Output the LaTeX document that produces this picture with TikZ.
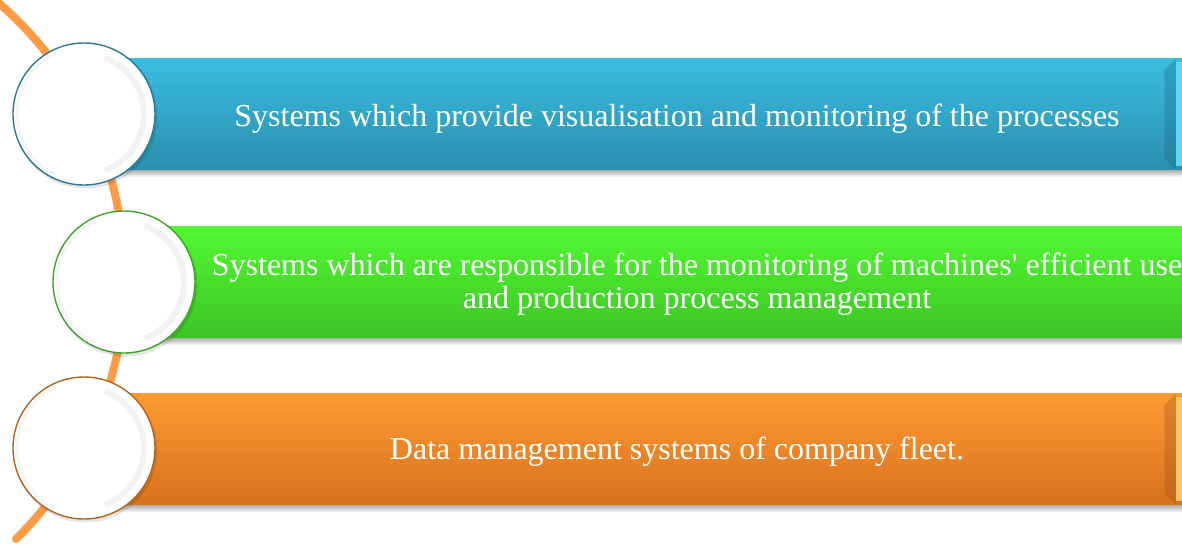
\documentclass[tikz,border=0pt]{standalone}
\usepackage{fontspec}
\setmainfont{Liberation Serif}[Ligatures=TeXOff]
\definecolor{bluetop}{HTML}{3ABDE0}
\definecolor{bluebot}{HTML}{2A8FAF}
\definecolor{bluering}{HTML}{2B7A92}
\definecolor{bluelight}{HTML}{5AD8F6}
\definecolor{greentop}{HTML}{52F832}
\definecolor{greenbot}{HTML}{3CC425}
\definecolor{greenring}{HTML}{3EA52B}
\definecolor{greenlight}{HTML}{80FF66}
\definecolor{orangetop}{HTML}{FF9B33}
\definecolor{orangebot}{HTML}{D6711E}
\definecolor{orangering}{HTML}{B5651F}
\definecolor{orangelight}{HTML}{FFC464}
\definecolor{arccol}{HTML}{FF9A45}
\tikzset{
  barbox/.style={rectangle, anchor=north west, minimum width=1080pt, minimum height=112pt, inner sep=0pt, draw=none},
  bartext/.style={text=white, font=\fontsize{32}{33}\selectfont, align=center, inner sep=0pt},
  disc/.style={circle, minimum size=142pt, inner sep=0pt, fill=white, line width=1.4pt},
  shadowband/.style={top color=black!30, bottom color=white, draw=none},
}
\newcommand{\barextras}[3]{% #1 bar node, #2 dark col, #3 light col
  \fill[shadowband] (#1.south west) rectangle ([yshift=-7pt]#1.south east);
  \fill[#2, opacity=0.3] ([xshift=-26pt,yshift=-12pt]#1.north east) -- ([xshift=-14pt]#1.north east) -- ([xshift=-14pt]#1.south east) -- ([xshift=-26pt,yshift=12pt]#1.south east) -- cycle;
  \fill[#3] ([xshift=-14pt,yshift=-4pt]#1.north east) rectangle ([xshift=-8pt,yshift=4pt]#1.south east);
}
\begin{document}
\begin{tikzpicture}[x=1pt,y=-1pt]
\useasboundingbox (0,0) rectangle (1182,544);
\clip (0,0) rectangle (1182,544);
\fill[white] (0,0) rectangle (1182,544);
% orange arc behind
\coordinate (arcc) at (-239.6,279);
\draw[arccol, line width=8pt, line cap=round] ([shift={(45.5:364.6)}]arcc) arc[start angle=45.5, end angle=-52, radius=364.6];
% bars
\node[barbox, top color=bluetop, bottom color=bluebot] (bar1) at (110,58) {};
\node[barbox, top color=greentop, bottom color=greenbot] (bar2) at (150,226) {};
\node[barbox, top color=orangetop, bottom color=orangebot] (bar3) at (110,393) {};
\barextras{bar1}{bluebot!70!black}{bluelight}
\barextras{bar2}{greenbot!70!black}{greenlight}
\barextras{bar3}{orangebot!70!black}{orangelight}
% texts
\node[bartext] (t1) at (677,119) {Systems which provide visualisation and monitoring of the processes};
\node[bartext] (t2) at (697,284) {Systems which are responsible for the monitoring of machines' efficient use\\and production process management};
\node[bartext] (t3) at (677,452) {Data management systems of company fleet.};
% circles
\foreach \n/\x/\y/\c in {c1/84/114/bluering, c2/124/282/greenring, c3/84/448/orangering}{
  \fill[black, opacity=0.10] (\x+1.5,\y+2.5) circle (72);
  \node[disc, draw=\c] (\n) at (\x,\y) {};
  \draw[black!5, line width=6pt] ([shift={(-70:60)}]\x,\y) arc[start angle=-70, end angle=70, radius=60];
  \draw[black!4, line width=3pt] ([shift={(115:67)}]\x,\y) arc[start angle=115, end angle=245, radius=67];
}
\end{tikzpicture}
\end{document}
